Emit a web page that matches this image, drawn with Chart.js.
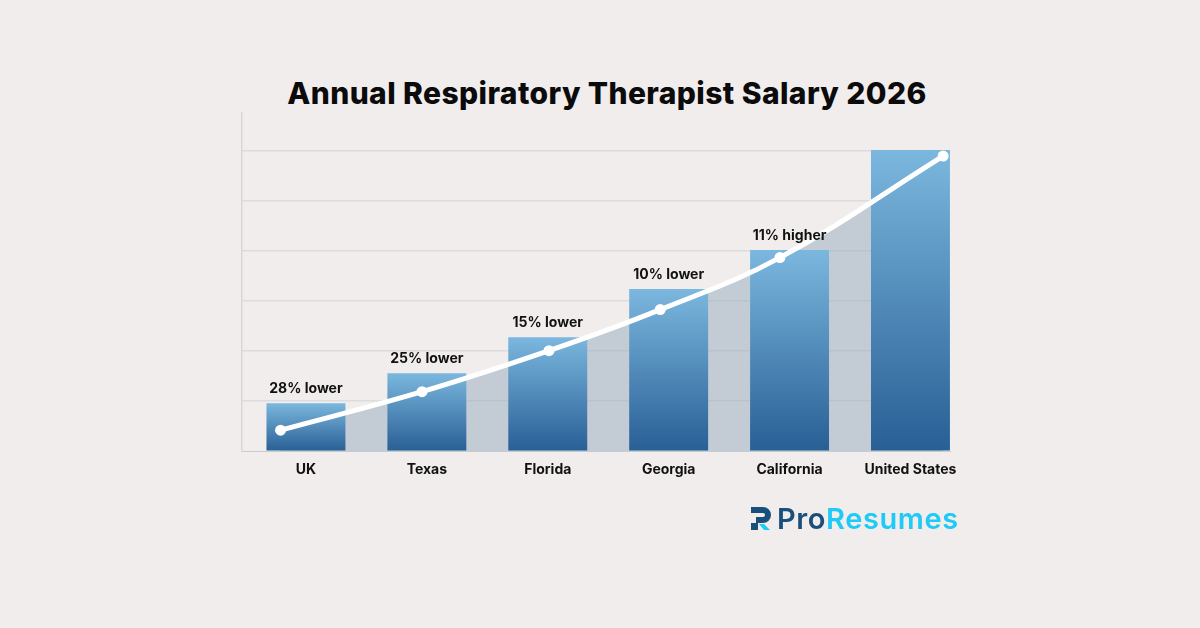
<!DOCTYPE html>
<html>
<head>
<meta charset="utf-8">
<script src="https://cdn.jsdelivr.net/npm/chart.js@4.4.1/dist/chart.umd.min.js"></script>
<style>
  html, body { margin: 0; padding: 0; background: #f2eded; }
  #wrap { position: relative; width: 1200px; height: 628px; overflow: hidden; }
  #chart { position: absolute; left: 0; top: 0; }
  #title {
    position: absolute; left: 0; width: 1214px; top: 75px; text-align: center;
    font-family: Inter, sans-serif; font-weight: 800; font-size: 30px; color: #0b0b0b;
    letter-spacing: 0.4px;
  }
  #logo {
    position: absolute; left: 750px; top: 500px; height: 36px;
    display: flex; align-items: center; font-family: Inter, sans-serif;
    font-weight: 600; font-size: 29px; letter-spacing: 0.6px;
  }
  #logo svg { margin-right: 3px; }
  .pro { color: #1b4f7b; }
  .res { color: #1fcaf6; }
</style>
</head>
<body>
<div id="wrap">
  <div id="title">Annual Respiratory Therapist Salary 2026</div>
  <canvas id="chart" width="1200" height="628"></canvas>
  <div id="logo">
    <svg width="24" height="28" viewBox="0 0 24 28">
      <path d="M1 3 H13 A8 8 0 0 1 13 19 H8 V26 H1 V19 H6 V13 H13 A2 2 0 0 0 13 9 H1 Z" fill="#1b4f7b"/>
      <path d="M9 20 L14 20 L20 26 L14 26 Z" fill="#1fcaf6"/>
    </svg>
    <span class="pro">Pro</span><span class="res">Resumes</span>
  </div>
</div>
<script>
"use strict";
// salaries in $k (axis has no labels)
const categories = ["UK", "Texas", "Florida", "Georgia", "California", "United States"];
const barValues = [9.6, 15.6, 22.8, 32.4, 40.2, 60.2];
const barNotes = ["28% lower", "25% lower", "15% lower", "10% lower", "11% higher", ""];
const lineX = [-0.21, 0.96, 2.01, 2.93, 3.92, 5.27];
const lineValues = [4.2, 11.9, 20.1, 28.3, 38.7, 59.0];

function barGradient(context) {
  const chart = context.chart;
  const area = chart.chartArea;
  if (!area || context.raw == null) return "#5a9ac8";
  const y = chart.scales.y;
  const top = y.getPixelForValue(context.raw.y);
  const bottom = y.getPixelForValue(0);
  const g = chart.ctx.createLinearGradient(0, top, 0, bottom);
  g.addColorStop(0, "#7bb7de");
  g.addColorStop(1, "#285f95");
  return g;
}

const noteLabels = {
  id: "noteLabels",
  afterDatasetsDraw(chart) {
    const ctx = chart.ctx;
    const meta = chart.getDatasetMeta(1);
    ctx.save();
    ctx.font = "700 14px Inter, sans-serif";
    ctx.fillStyle = "#111111";
    ctx.textAlign = "center";
    ctx.textBaseline = "middle";
    meta.data.forEach((el, i) => {
      if (barNotes[i]) ctx.fillText(barNotes[i], el.x, el.y - 14);
    });
    ctx.restore();
  },
};

const ctx = document.getElementById("chart").getContext("2d");
new Chart(ctx, {
  data: {
    datasets: [
      {
        type: "line",
        data: lineX.map((x, i) => ({ x: x, y: lineValues[i] })),
        borderColor: "#ffffff",
        borderWidth: 5,
        pointRadius: 5.5,
        pointBackgroundColor: "#ffffff",
        pointBorderWidth: 0,
        tension: 0.4,
        fill: "origin",
        backgroundColor: "rgba(148,171,187,0.5)",
        order: 0,
      },
      {
        type: "bar",
        data: barValues.map((v, i) => ({ x: i, y: v })),
        backgroundColor: barGradient,
        barPercentage: 0.653,
        categoryPercentage: 1,
        order: 1,
      },
    ],
  },
  options: {
    responsive: false,
    animation: false,
    layout: { padding: { left: 242, right: 250, top: 113, bottom: 140 } },
    plugins: {
      legend: { display: false },
      tooltip: { enabled: false },
      filler: { drawTime: "beforeDatasetsDraw" },
    },
    scales: {
      x: {
        type: "linear",
        offset: false,
        min: -0.529,
        max: 5.327,
        afterBuildTicks: (axis) => {
          axis.ticks = categories.map((_, i) => ({ value: i }));
        },
        grid: { display: false, drawTicks: false, offset: false },
        border: { display: true, color: "#c6ccd1", width: 1 },
        ticks: {
          padding: 10,
          autoSkip: false,
          maxRotation: 0,
          color: "#111111",
          font: { family: "Inter, sans-serif", size: 14, weight: "700" },
          callback: (v) => categories[v],
        },
      },
      y: {
        min: 0,
        max: 67.6,
        ticks: { display: false, stepSize: 10 },
        grid: {
          drawTicks: false,
          color: (c) => (c.tick.value > 0 && c.tick.value <= 60 ? "#dcdcdc" : "rgba(0,0,0,0)"),
          lineWidth: 1.5,
        },
        border: { display: true, color: "#d6d6d6", width: 1.5 },
      },
    },
  },
  plugins: [noteLabels],
});
</script>
</body>
</html>
